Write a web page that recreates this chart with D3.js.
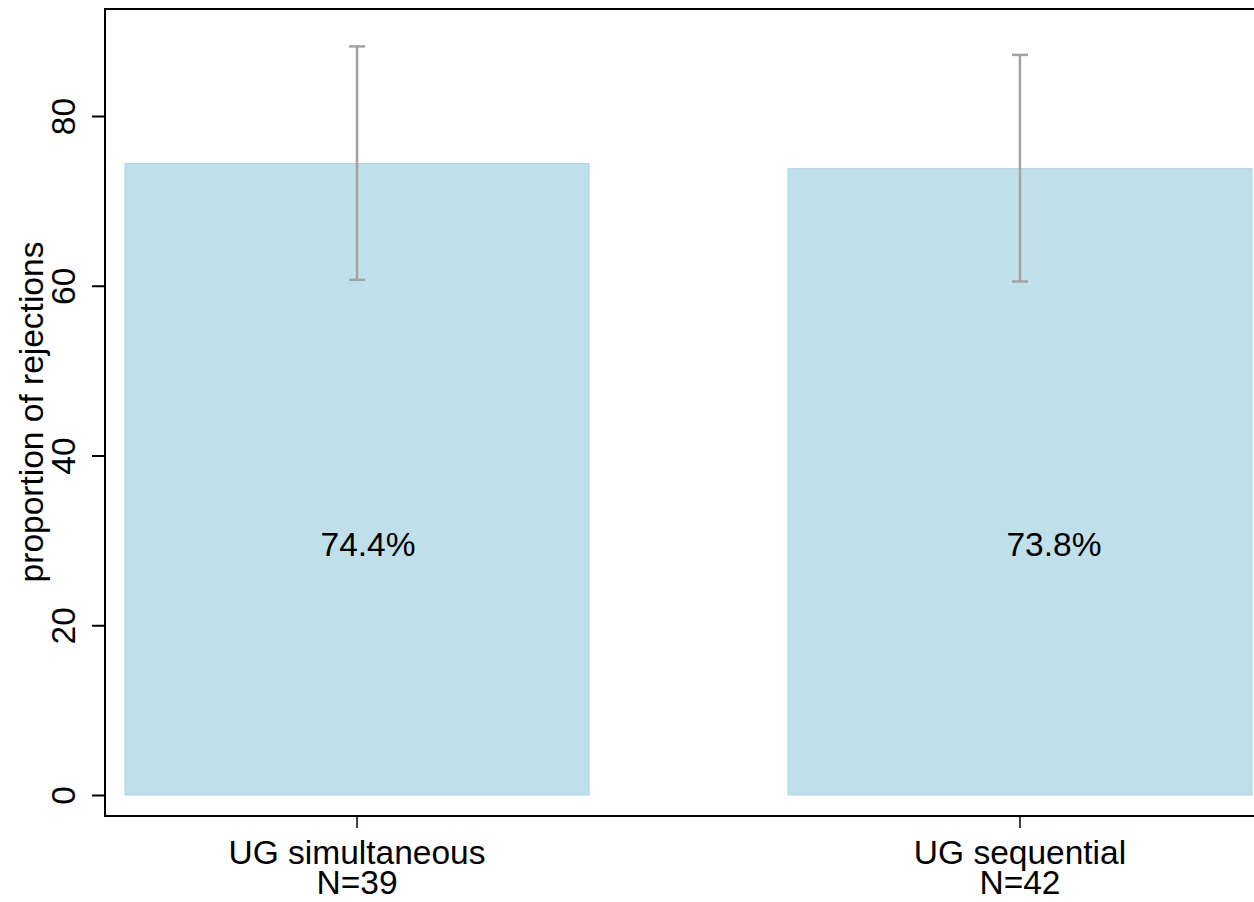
<!DOCTYPE html>
<html>
<head>
<meta charset="utf-8">
<script src="https://cdn.jsdelivr.net/npm/d3@7"></script>
<style>
html,body{margin:0;padding:0;background:#fff;}
svg text{font-family:"Liberation Sans",Arial,Helvetica,sans-serif;}
</style>
</head>
<body>
<svg id="chart" width="1254" height="902"></svg>
<script>
// ---- data ----
const categories = ["UG simultaneous", "UG sequential"];
const sampleSizes = ["N=39", "N=42"];
const values = [74.4, 73.8];
const ciLower = [60.7, 60.5];
const ciUpper = [88.2, 87.2];
const valueLabels = ["74.4%", "73.8%"];
const yTicks = [0, 20, 40, 60, 80];

// ---- layout ----
const frame = {left: 105, top: 9, right: 1272, bottom: 816};
const svg = d3.select("#chart");

const y = d3.scaleLinear().domain([0, 80]).range([795, 116]);
const x = d3.scaleBand().domain(categories).range([125, 1252]).paddingInner(0.3).paddingOuter(0);

const fontSize = 33.5;

// bars
svg.selectAll("rect.bar").data(values).join("rect")
  .attr("class", "bar")
  .attr("x", (d, i) => x(categories[i]))
  .attr("width", x.bandwidth())
  .attr("y", d => y(d))
  .attr("height", d => y(0) - y(d))
  .attr("fill", "#bfe0ea")
  .attr("stroke", "#acd5e3")
  .attr("stroke-width", 1);

// error bars
const capHalf = 8;
const eb = svg.append("g").attr("stroke", "#a3a3a3").attr("stroke-width", 2.5).attr("fill", "none");
categories.forEach((c, i) => {
  const cx = x(c) + x.bandwidth() / 2;
  eb.append("line").attr("x1", cx).attr("x2", cx).attr("y1", y(ciLower[i])).attr("y2", y(ciUpper[i]));
  eb.append("line").attr("x1", cx - capHalf).attr("x2", cx + capHalf).attr("y1", y(ciUpper[i])).attr("y2", y(ciUpper[i]));
  eb.append("line").attr("x1", cx - capHalf).attr("x2", cx + capHalf).attr("y1", y(ciLower[i])).attr("y2", y(ciLower[i]));
});

// value labels
const labelOffsets = [11, 34];
svg.selectAll("text.vlab").data(valueLabels).join("text")
  .attr("class", "vlab")
  .attr("x", (d, i) => x(categories[i]) + x.bandwidth() / 2 + labelOffsets[i])
  .attr("y", y(29.5))
  .attr("dy", "0.35em")
  .attr("text-anchor", "middle")
  .attr("font-size", fontSize)
  .attr("fill", "#000")
  .text(d => d);

// frame (left, top, bottom)
svg.append("path")
  .attr("d", `M${frame.right},${frame.top}H${frame.left}V${frame.bottom}H${frame.right}`)
  .attr("fill", "none").attr("stroke", "#000").attr("stroke-width", 2);

// y axis
const yAxis = d3.axisLeft(y).tickValues(yTicks).tickSize(13).tickPadding(15).tickFormat(d3.format("d"));
const gy = svg.append("g").attr("transform", `translate(${frame.left},0)`).call(yAxis);
gy.select(".domain").remove();
gy.selectAll(".tick line").attr("stroke", "#000").attr("stroke-width", 2);
gy.selectAll(".tick text")
  .attr("font-size", fontSize)
  .attr("fill", "#000")
  .attr("transform", "translate(-15,0) rotate(-90)")
  .attr("x", 0).attr("y", -15)
  .attr("dy", 0)
  .attr("text-anchor", "middle");

// x axis
const xAxis = d3.axisBottom(x).tickSize(12).tickFormat("");
const gx = svg.append("g").attr("transform", `translate(0,${frame.bottom})`).call(xAxis);
gx.select(".domain").remove();
gx.selectAll(".tick line").attr("stroke", "#000").attr("stroke-width", 1.5);

const xl = svg.selectAll("text.xlab").data(categories).join("text")
  .attr("class", "xlab")
  .attr("text-anchor", "middle")
  .attr("font-size", fontSize)
  .attr("fill", "#000")
  .attr("transform", d => `translate(${x(d) + x.bandwidth() / 2},864)`);
xl.append("tspan").attr("x", 0).attr("y", 0).text(d => d);
xl.append("tspan").attr("x", 0).attr("y", 30).text((d, i) => sampleSizes[i]);

// y title
svg.append("text")
  .attr("transform", `translate(43,412) rotate(-90)`)
  .attr("text-anchor", "middle")
  .attr("font-size", fontSize)
  .attr("fill", "#000")
  .text("proportion of rejections");
</script>
</body>
</html>
